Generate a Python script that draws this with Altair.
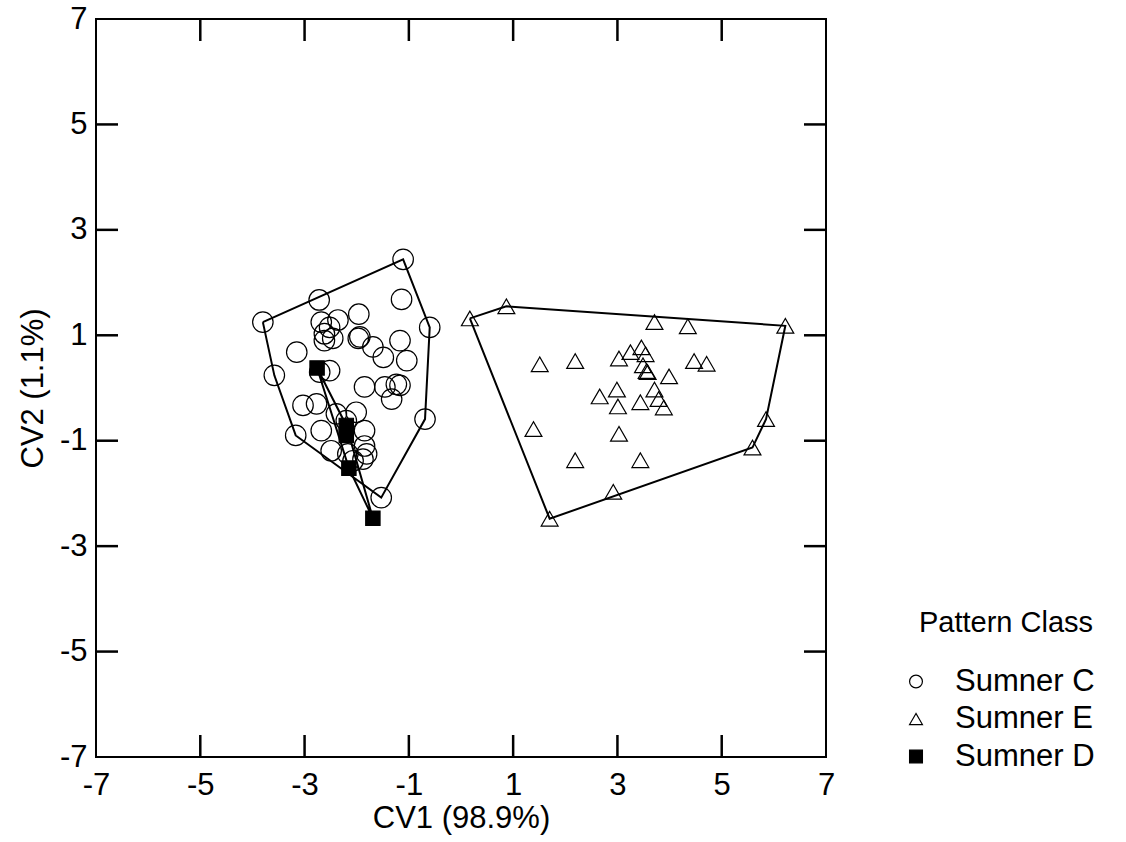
import altair as alt
import pandas as pd

# ---- data ----
# Sumner C (circles)
c_x = [-1.11, -2.72, -1.14, -3.80, -0.60, -1.96, -2.68, -2.36, -2.52, -2.62, -2.46,
       -2.62, -1.94, -1.97, -1.69, -1.17, -3.15, -1.49, -1.04, -3.58, -2.71, -2.52,
       -1.85, -1.46, -1.24, -1.17, -1.33, -3.03, -2.77, -2.39, -2.01, -0.69, -3.17,
       -2.68, -2.20, -1.85, -2.49, -2.17, -1.85, -1.81, -1.88, -2.07, -1.53]
c_y = [2.44, 1.67, 1.68, 1.25, 1.15, 1.40, 1.25, 1.29, 1.15, 1.03, 0.94,
       0.90, 0.97, 0.94, 0.78, 0.90, 0.68, 0.58, 0.52, 0.24, 0.30, 0.33,
       0.02, 0.02, 0.07, 0.05, -0.21, -0.33, -0.30, -0.49, -0.46, -0.59, -0.90,
       -0.81, -0.62, -0.81, -1.19, -1.25, -1.10, -1.25, -1.35, -1.38, -2.08]
# Sumner E (triangles)
e_x = [0.17, 0.87, 3.71, 4.35, 6.22, 3.25, 3.46, 3.54, 3.03, 2.19, 1.51, 4.47, 4.71,
       3.49, 3.56, 3.58, 3.99, 2.99, 3.71, 2.66, 3.79, 3.44, 3.01, 3.89, 5.85, 1.39,
       3.03, 5.59, 2.19, 3.44, 2.92, 1.70]
e_y = [1.32, 1.55, 1.25, 1.17, 1.18, 0.68, 0.77, 0.64, 0.56, 0.51, 0.45, 0.51, 0.46,
       0.43, 0.32, 0.30, 0.22, -0.03, -0.03, -0.16, -0.21, -0.27, -0.35, -0.37, -0.59, -0.78,
       -0.87, -1.13, -1.37, -1.37, -1.97, -2.48]
# Sumner D (filled squares)
d_x = [-2.76, -2.20, -2.20, -2.15, -1.69]
d_y = [0.38, -0.71, -0.90, -1.52, -2.47]

groups = ["Sumner C", "Sumner E", "Sumner D"]
legend_title = "Pattern Class"
shapes = ["circle", "triangle-up", "square"]
fills = ["transparent", "transparent", "black"]
sizes = [420, 285, 205]
axis_values = [-7, -5, -3, -1, 1, 3, 5, 7]
inner_ticks = [-5, -3, -1, 1, 3, 5]

W, H = 730, 738
TICK = 22
FONT = "Liberation Sans"


def convex_hull(xs, ys):
    pts = sorted(set(zip(xs, ys)))

    def cross(o, a, b):
        return (a[0] - o[0]) * (b[1] - o[1]) - (a[1] - o[1]) * (b[0] - o[0])

    lower = []
    for p in pts:
        while len(lower) >= 2 and cross(lower[-2], lower[-1], p) <= 0:
            lower.pop()
        lower.append(p)
    upper = []
    for p in reversed(pts):
        while len(upper) >= 2 and cross(upper[-2], upper[-1], p) <= 0:
            upper.pop()
        upper.append(p)
    h = lower[:-1] + upper[:-1]
    return h + [h[0]]


series = [(c_x, c_y), (e_x, e_y), (d_x, d_y)]
pts_rows, hull_rows = [], []
for g, sz, (xs, ys) in zip(groups, sizes, series):
    for x, y in zip(xs, ys):
        pts_rows.append({"x": x, "y": y, "group": g, "sz": sz})
    for i, (x, y) in enumerate(convex_hull(xs, ys)):
        hull_rows.append({"x": x, "y": y, "group": g, "order": i})

points = pd.DataFrame(pts_rows)
hulls = pd.DataFrame(hull_rows)
xticks = pd.DataFrame({"x": inner_ticks})
yticks = pd.DataFrame({"y": inner_ticks})
legend_df = pd.DataFrame({"group": groups})
title_df = pd.DataFrame({"t": [legend_title]})

xscale = alt.Scale(domain=[-7, 7], nice=False, zero=False)
yscale = alt.Scale(domain=[-7, 7], nice=False, zero=False)
shape_scale = alt.Scale(domain=groups, range=shapes)
fill_scale = alt.Scale(domain=groups, range=fills)

xaxis = alt.Axis(values=axis_values, title="CV1 (98.9%)", ticks=False, tickSize=0,
                 domain=False, grid=False, labelFont=FONT, labelFontSize=31,
                 labelColor="black", labelPadding=13, titleFont=FONT,
                 titleFontSize=31, titleFontWeight="normal", titleColor="black",
                 titlePadding=3, labelFlush=False, labelExpr="'' + datum.value")
yaxis = alt.Axis(values=axis_values, title="CV2 (1.1%)", ticks=False, tickSize=0,
                 domain=False, grid=False, labelFont=FONT, labelFontSize=31,
                 labelColor="black", labelPadding=9, titleFont=FONT,
                 titleFontSize=31, titleFontWeight="normal", titleColor="black",
                 titlePadding=10, labelFlush=False, labelExpr="'' + datum.value")

hull_layer = alt.Chart(hulls).mark_line(color="black", strokeWidth=2).encode(
    x=alt.X("x:Q", scale=xscale, axis=xaxis),
    y=alt.Y("y:Q", scale=yscale, axis=yaxis),
    detail="group:N",
    order="order:Q",
)

point_layer = alt.Chart(points).mark_point(filled=False, color="black", strokeWidth=1.2,
                                           opacity=1).encode(
    x=alt.X("x:Q", scale=xscale, axis=xaxis),
    y=alt.Y("y:Q", scale=yscale, axis=yaxis),
    shape=alt.Shape("group:N", scale=shape_scale, legend=None),
    fill=alt.Fill("group:N", scale=fill_scale, legend=None),
    size=alt.Size("sz:Q", scale=None),
)

rule_style = dict(color="black", strokeWidth=2.5)
bottom_ticks = alt.Chart(xticks).mark_rule(**rule_style).encode(
    x=alt.X("x:Q", scale=xscale, axis=xaxis), y=alt.value(H), y2=alt.value(H - TICK))
top_ticks = alt.Chart(xticks).mark_rule(**rule_style).encode(
    x=alt.X("x:Q", scale=xscale, axis=xaxis), y=alt.value(0), y2=alt.value(TICK))
left_ticks = alt.Chart(yticks).mark_rule(**rule_style).encode(
    y=alt.Y("y:Q", scale=yscale, axis=yaxis), x=alt.value(0), x2=alt.value(TICK))
right_ticks = alt.Chart(yticks).mark_rule(**rule_style).encode(
    y=alt.Y("y:Q", scale=yscale, axis=yaxis), x=alt.value(W), x2=alt.value(W - TICK))

main = alt.layer(bottom_ticks, top_ticks, left_ticks, right_ticks, hull_layer, point_layer)

# ---- legend (drawn beside the plot, rows placed by a point scale) ----
row_scale = alt.Scale(type="point", domain=groups, range=[662.5, 737.5], padding=0)

legend_symbols = alt.Chart(legend_df).mark_point(filled=False, color="black",
                                                 strokeWidth=1.2, size=165, opacity=1).encode(
    x=alt.value(820),
    y=alt.Y("group:N", scale=row_scale, axis=None),
    shape=alt.Shape("group:N", scale=shape_scale, legend=None),
    fill=alt.Fill("group:N", scale=fill_scale, legend=None),
)
legend_labels = alt.Chart(legend_df).mark_text(align="left", baseline="middle", font=FONT,
                                               fontSize=31, color="black").encode(
    x=alt.value(859),
    y=alt.Y("group:N", scale=row_scale, axis=None),
    text="group:N",
)
legend_head = alt.Chart(title_df).mark_text(align="left", baseline="alphabetic", font=FONT,
                                            fontSize=29, color="black").encode(
    x=alt.value(823), y=alt.value(612.5), text="t:N",
)

legend_layer = alt.layer(legend_symbols, legend_labels)

chart = alt.layer(main, legend_layer, legend_head).resolve_scale(
    y="independent"
).properties(
    width=W, height=H, autosize="none",
    padding={"left": 96, "top": 19, "right": 300, "bottom": 85},
    background="white",
).configure_view(
    stroke="black", strokeWidth=2
)

chart.save("out.html", embed_options={"renderer": "svg", "actions": False})
